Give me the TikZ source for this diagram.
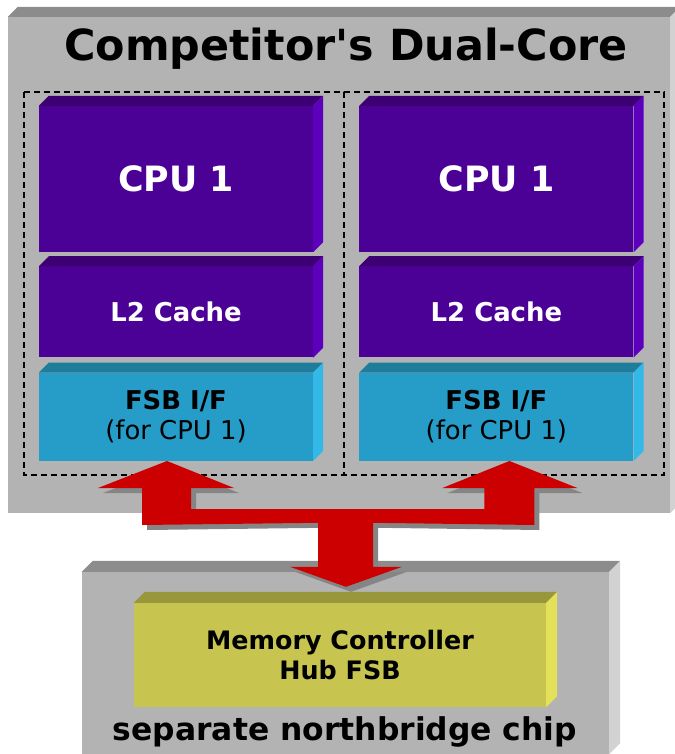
\documentclass[tikz,border=0pt]{standalone}
\usepackage{fontspec}
\setmainfont{DejaVu Sans}
\usepackage{tikz}
\usetikzlibrary{positioning, calc}

\definecolor{casefront}{RGB}{179,179,179}
\definecolor{casetop}{RGB}{140,140,140}
\definecolor{caseside}{RGB}{210,210,210}
\definecolor{cpufront}{RGB}{75,0,150}
\definecolor{cputop}{RGB}{60,0,115}
\definecolor{cpuside}{RGB}{92,0,190}
\definecolor{fsbfront}{RGB}{38,156,200}
\definecolor{fsbtop}{RGB}{31,125,156}
\definecolor{fsbside}{RGB}{51,185,232}
\definecolor{hubfront}{RGB}{199,196,80}
\definecolor{hubtop}{RGB}{153,151,60}
\definecolor{hubside}{RGB}{227,224,90}
\definecolor{busred}{RGB}{204,0,0}
\definecolor{busshade}{RGB}{133,133,133}

% top and right faces of a block: node, depth, top colour, side colour
\newcommand{\faces}[4]{%
  \fill[#3] (#1.north west) -- ++(#2,-#2) -- ($(#1.north east)+(#2,-#2)$) -- (#1.north east) -- cycle;
  \fill[#4] (#1.north east) -- ++(#2,-#2) -- ($(#1.south east)+(#2,-#2)$) -- (#1.south east) -- cycle;}

% outline of the shared bus
\newcommand{\buspath}{(tipA) -- ($(tipA)+(67,27)$) -- ($(tipA)+(24,27)$) -- ($(tipA)+(24,48)$)
  -- ($(tipB)+(-25,48)$) -- ($(tipB)+(-25,27)$) -- ($(tipB)+(-67,27)$) -- (tipB)
  -- ($(tipB)+(68,27)$) -- ($(tipB)+(25,27)$) -- ($(tipB)+(25,64)$)
  -- ($(tipC)+(27,-64)$) -- ($(tipC)+(27,-20)$) -- ($(tipC)+(56,-20)$) -- (tipC)
  -- ($(tipC)+(-56,-20)$) -- ($(tipC)+(-28,-20)$) -- ($(tipC)+(-28,-64)$)
  -- ($(tipA)+(-25,64)$) -- ($(tipA)+(-25,27)$) -- ($(tipA)+(-69,27)$) -- cycle}

\begin{document}
\begin{tikzpicture}[x=1bp, y=-1bp, node distance=14bp]

\tikzstyle{case} = [rectangle, inner sep=0, fill=casefront]
\tikzstyle{cpu} = [rectangle, inner sep=0, minimum width=274bp, minimum height=146bp, fill=cpufront, text=white, font=\fontsize{35}{40}\selectfont\bfseries]
\tikzstyle{cache} = [rectangle, inner sep=0, minimum width=274bp, minimum height=91bp, fill=cpufront, text=white, font=\fontsize{26}{30}\selectfont\bfseries]
\tikzstyle{fsb} = [rectangle, inner sep=0, minimum width=274bp, minimum height=88bp, fill=fsbfront, align=center, font=\fontsize{26}{30}\selectfont]
\tikzstyle{hub} = [rectangle, inner sep=0, minimum width=412bp, minimum height=104bp, fill=hubfront, align=center, font=\fontsize{25.5}{31}\selectfont\bfseries]
\tikzstyle{cage} = [black, line width=1.5bp, dash pattern=on 6bp off 4bp]

\useasboundingbox (0,0) rectangle (675,754);

% Processor package
\node (chip) [case, minimum width=662bp, minimum height=496bp] at (339,265) {};
\faces{chip}{10}{casetop}{caseside}
\node (title) [anchor=base, font=\fontsize{43}{46}\selectfont\bfseries] at (346,61) {Competitor\textquotesingle s Dual-Core};

\draw [cage] (24,92) rectangle (344,475);
\draw [cage] (344,92) rectangle (664,475);

% Cores
\node (cpuA) [cpu] at (176,179) {CPU 1};
\node (cacheA) [cache, below=of cpuA] {L2 Cache};
\node (fsbA) [fsb, below=15bp of cacheA] {\textbf{FSB I/F}\\(for CPU 1)};
\node (cpuB) [cpu, right=46bp of cpuA] {CPU 1};
\node (cacheB) [cache, below=of cpuB] {L2 Cache};
\node (fsbB) [fsb, below=15bp of cacheB] {\textbf{FSB I/F}\\(for CPU 1)};
\foreach \core in {A,B} {
  \faces{cpu\core}{10}{cputop}{cpuside}
  \faces{cache\core}{10}{cputop}{cpuside}
  \faces{fsb\core}{10}{fsbtop}{fsbside}
}

% Northbridge
\node (bridge) [case, minimum width=527bp, minimum height=182bp] at (345.5,663) {};
\faces{bridge}{11}{casetop}{caseside}
\node (mch) [hub] at (340,655) {Memory Controller\\Hub FSB};
\faces{mch}{11}{hubtop}{hubside}
\node (bridgelabel) [anchor=base, font=\fontsize{31.5}{34}\selectfont\bfseries] at (345,740) {separate northbridge chip};

% Bus
\coordinate (tipA) at ([xshift=-9bp]fsbA.south);
\coordinate (tipB) at ([xshift=13bp]fsbB.south);
\coordinate (tipC) at ([xshift=6bp, yshift=16bp]mch.north);
\fill [busshade, transform canvas={shift={(5bp,-5bp)}}] \buspath;
\fill [busred] \buspath;

\end{tikzpicture}
\end{document}
